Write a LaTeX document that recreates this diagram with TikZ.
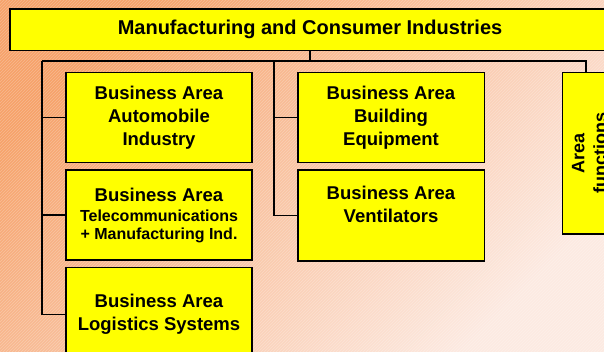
\documentclass[tikz,border=0pt]{standalone}
\usepackage{fontspec}
\setmainfont{Liberation Sans}
\usetikzlibrary{positioning,patterns}
\definecolor{bgorange}{RGB}{246,162,106}
\definecolor{bgpale}{RGB}{255,246,242}
\definecolor{bgpink}{RGB}{252,234,226}
\definecolor{boxyellow}{RGB}{255,255,0}
\tikzset{node distance=6pt, auto,
  ybox/.style={draw, line width=1.6pt, fill=boxyellow, align=center, inner sep=0pt},
  bizarea/.style={ybox, minimum width=186pt, minimum height=90pt, font=\bfseries\fontsize{18.5}{23}\selectfont},
  link/.style={line width=1.6pt}}

\begin{document}
\begin{tikzpicture}[x=1pt, y=1pt]
  \useasboundingbox (0,0) rectangle (604,352);
  \clip (0,0) rectangle (604,352);
  \shade[top color=bgorange, middle color=bgpale, bottom color=bgpink, shading angle=45] (0,0) rectangle (604,352);
  \fill[pattern=north east lines, pattern color=white, opacity=0.25] (0,0) rectangle (604,352);

  \node[ybox, minimum width=600pt, minimum height=41.7pt, font=\bfseries\fontsize{20}{23}\selectfont] (industries) at (310,322.15) {Manufacturing and Consumer Industries};

  \node[bizarea] (automobile) at (159,234.3) {Business Area\\Automobile\\Industry};
  \node[bizarea, below=of automobile] (telecom) {Business Area\\[-3pt]{\fontsize{16}{18}\selectfont Telecommunications}\\[-5pt]{\fontsize{16}{18}\selectfont + Manufacturing Ind.}};
  \node[bizarea, minimum height=93.7pt, below=5.6pt of telecom] (logistics) {Business Area\\Logistics Systems};

  \node[bizarea, minimum width=186.6pt] (building) at (391,234.5) {Business Area\\Building\\Equipment};
  \node[bizarea, minimum width=186.6pt, minimum height=90.7pt, below=of building] (ventilators) {Business Area\\Ventilators\\\mbox{}};

  \node[ybox, rotate=90, minimum width=161.3pt, minimum height=54pt, font=\bfseries\fontsize{18}{22}\selectfont] (functions) at (589.3,198.65) {Area\\functions};

  \coordinate (busL) at (42,291);
  \coordinate (busM) at (274,291);
  \coordinate (busR) at (586,291);

  \draw[link] (industries.south) -- (industries.south |- busL);
  \draw[link] (busL) -- (busR) -- (busR |- functions.east);
  \draw[link] (busL) |- (automobile.west);
  \draw[link] (busL) |- (telecom.west);
  \draw[link] (busL) |- (logistics.west);
  \draw[link] (busM) |- (building.west);
  \draw[link] (busM) |- (ventilators.west);
\end{tikzpicture}
\end{document}
